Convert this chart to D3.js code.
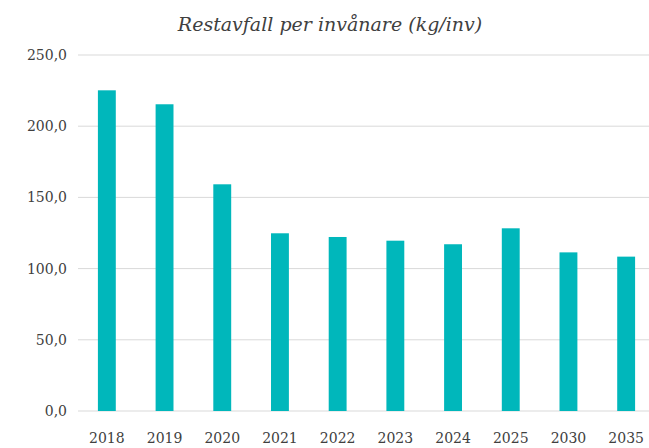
<!DOCTYPE html>
<html>
<head>
<meta charset="utf-8">
<script src="https://cdn.jsdelivr.net/npm/d3@7"></script>
<style>
  body { margin: 0; background: #fff; }
  text { font-family: Georgia, "DejaVu Serif", serif; fill: #404040; }
</style>
</head>
<body>
<div id="chart"></div>
<script>
var years = ["2018", "2019", "2020", "2021", "2022", "2023", "2024", "2025", "2030", "2035"]
var restavfall = [225.2, 215.4, 159.2, 124.8, 122.2, 119.6, 117.1, 128.3, 111.4, 108.4]
var yTicks = [0, 50, 100, 150, 200, 250]
var title = "Restavfall per invånare (kg/inv)"

var W = 649, H = 448
// plot edges (note: "top" is reserved on window, so prefix)
var plotLeft = 78, plotRight = 655, plotTop = 55, plotBottom = 411

var svg = d3.select("#chart").append("svg")
  .attr("width", W).attr("height", H)

var x = d3.scaleBand().domain(years).range([plotLeft, plotRight]).paddingInner(0.69).paddingOuter(0.345)
var y = d3.scaleLinear().domain([0, 250]).range([plotBottom, plotTop])

var fmt = function(d) { return d3.format(".1f")(d).replace(".", ",") }

// gridlines
svg.append("g").selectAll("line")
  .data(yTicks)
  .enter().append("line")
  .attr("x1", plotLeft).attr("x2", W)
  .attr("y1", function(d) { return y(d) }).attr("y2", function(d) { return y(d) })
  .attr("stroke", "#d9d9d9").attr("stroke-width", 1)

// y labels
var yAxis = svg.append("g").attr("transform", "translate(67,0)")
  .call(d3.axisLeft(y).tickValues(yTicks).tickFormat(fmt).tickSize(0).tickPadding(0))
yAxis.select(".domain").remove()
yAxis.selectAll("text").style("font-size", "14px").attr("fill", "#404040")
  .style("font-family", "Georgia, 'DejaVu Serif', serif")

// bars
svg.append("g").selectAll("rect")
  .data(restavfall)
  .enter().append("rect")
  .attr("x", function(d, i) { return x(years[i]) })
  .attr("width", x.bandwidth())
  .attr("y", function(d) { return y(d) })
  .attr("height", function(d) { return y(0) - y(d) })
  .attr("fill", "#00b7bb")

// x labels
var xAxis = svg.append("g").attr("transform", "translate(0," + plotBottom + ")")
  .call(d3.axisBottom(x).tickSize(0).tickPadding(22))
xAxis.select(".domain").remove()
xAxis.selectAll("text").style("font-size", "14px").attr("fill", "#404040")
  .style("font-family", "Georgia, 'DejaVu Serif', serif")

svg.append("text")
  .attr("x", 330).attr("y", 31)
  .attr("text-anchor", "middle")
  .style("font-size", "19px").style("font-style", "italic")
  .text(title)
</script>
</body>
</html>
